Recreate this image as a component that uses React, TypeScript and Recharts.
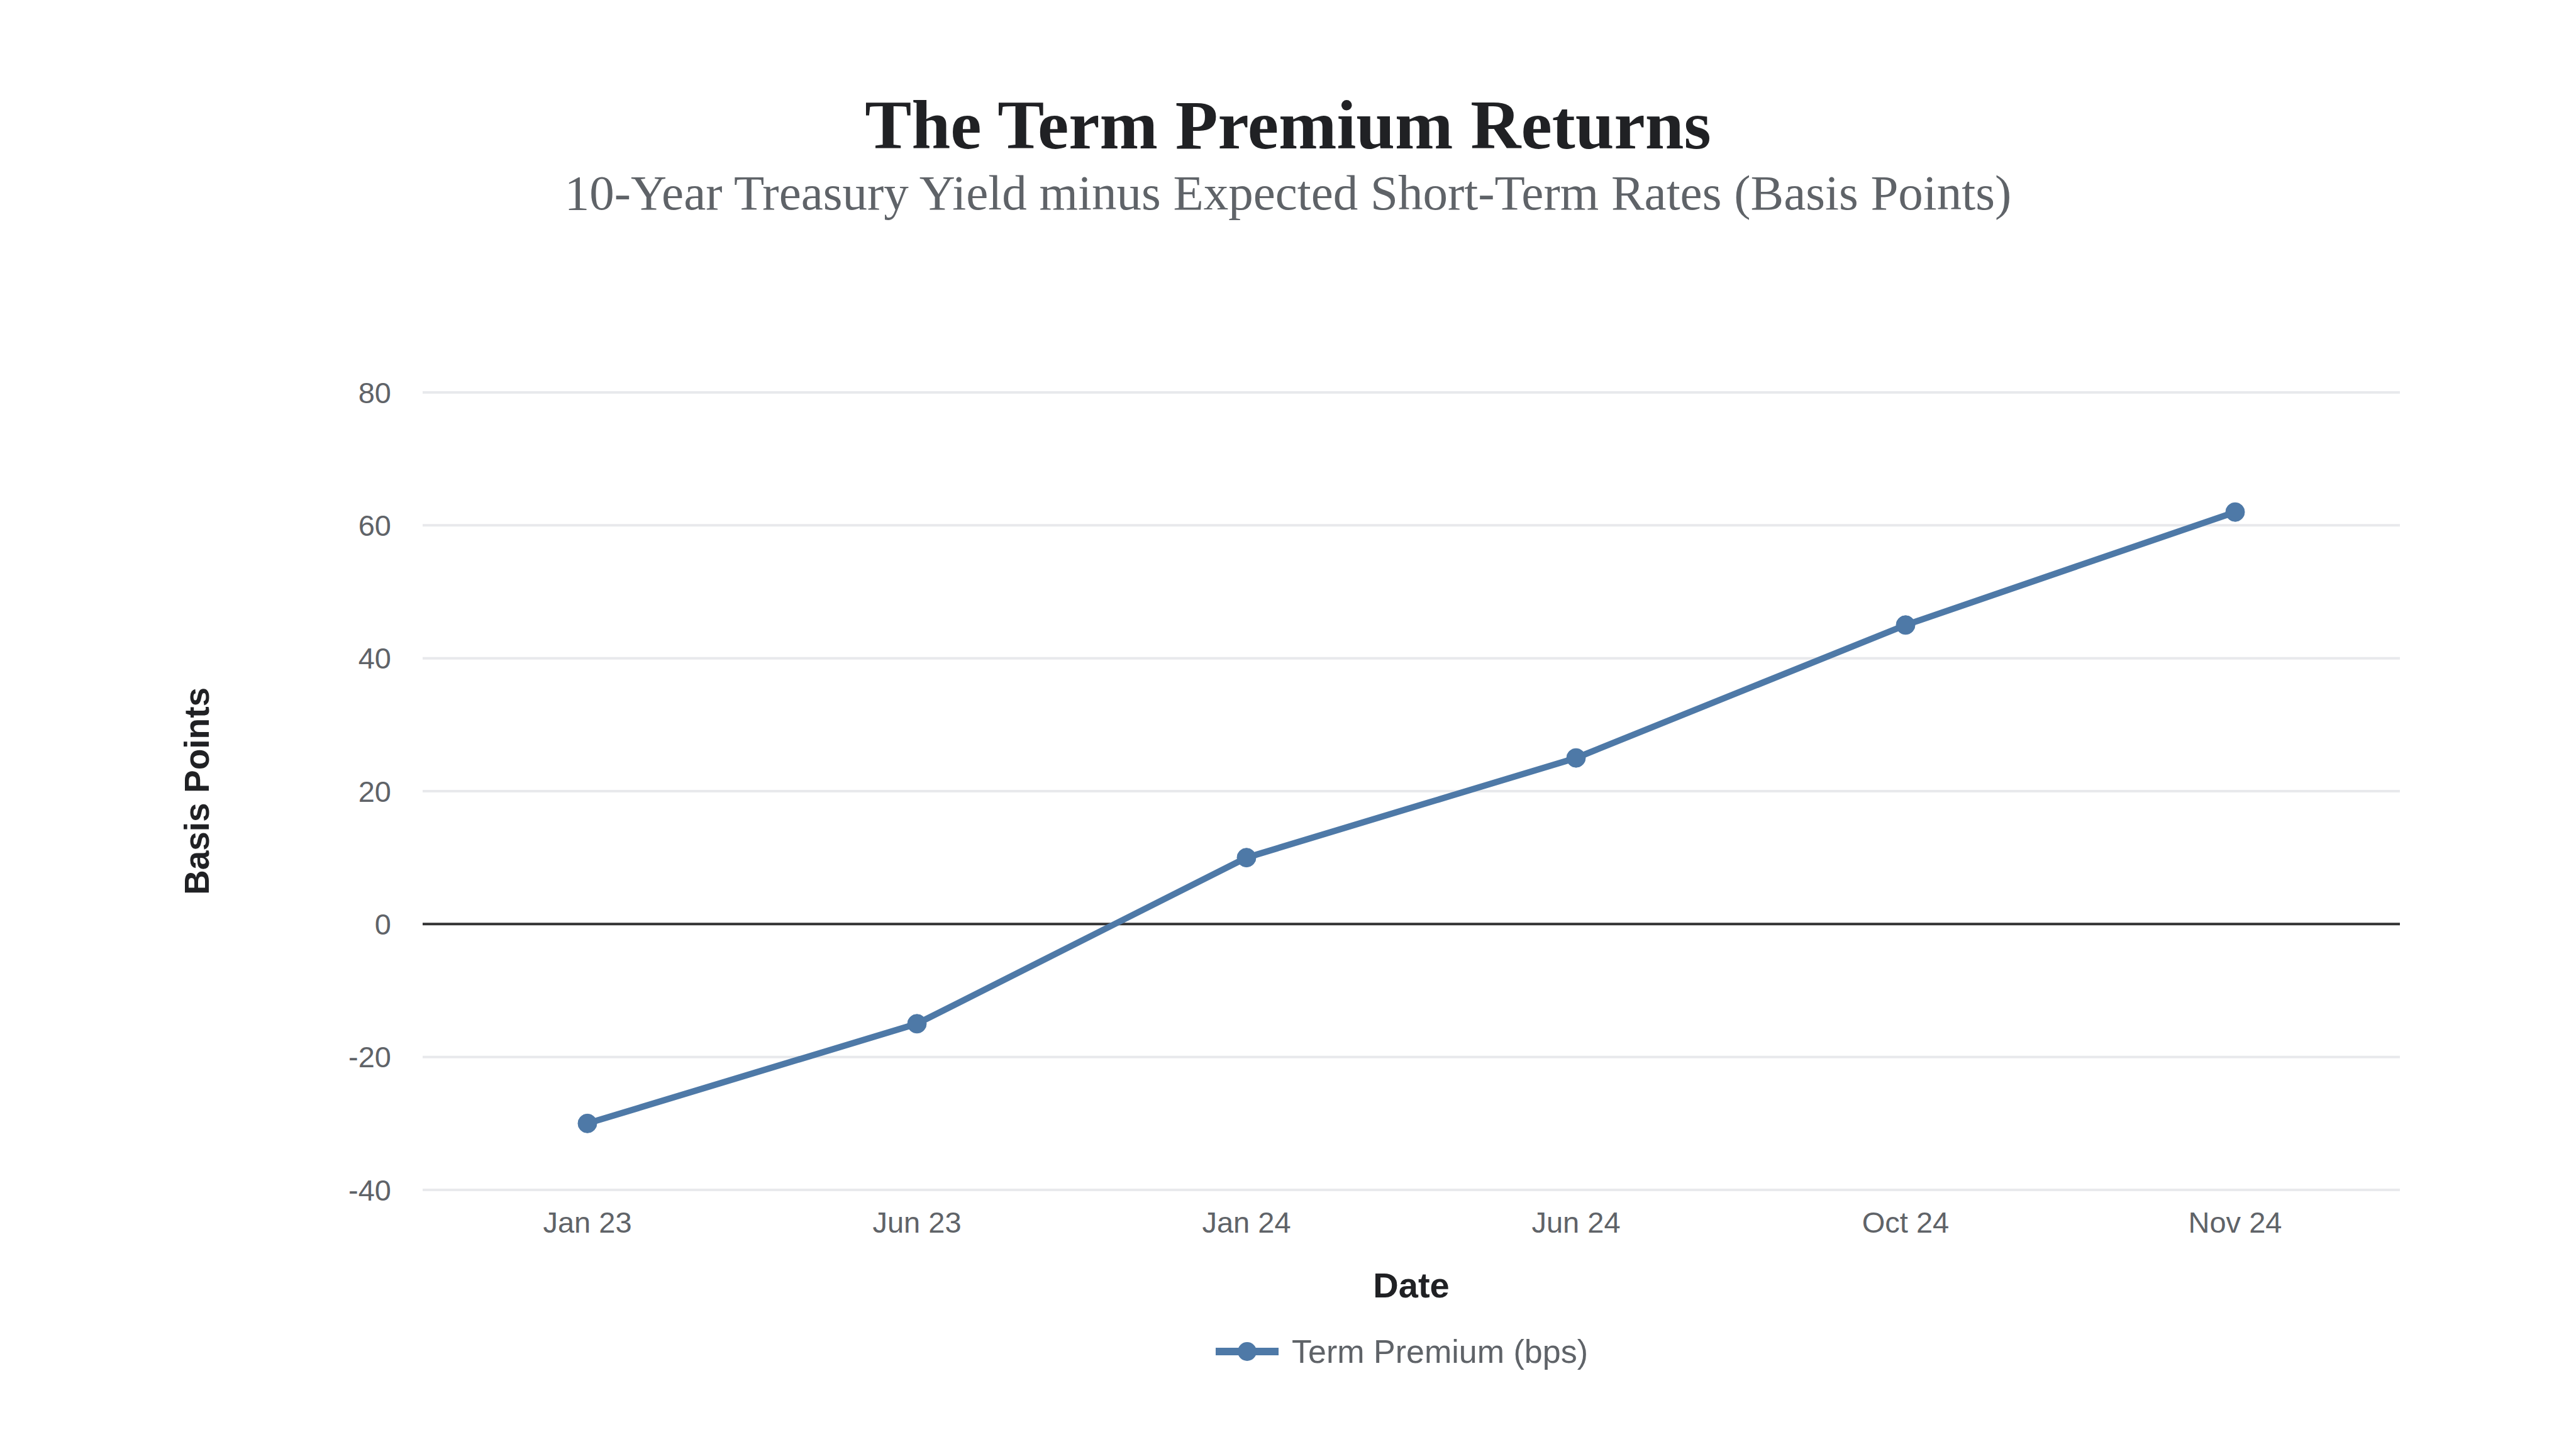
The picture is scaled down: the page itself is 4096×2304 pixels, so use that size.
import React from 'react';
import { LineChart, Line, XAxis, YAxis, CartesianGrid, Legend, ReferenceLine } from 'recharts';

// Term premium readings, in basis points
const months = ['Jan 23', 'Jun 23', 'Jan 24', 'Jun 24', 'Oct 24', 'Nov 24'];
const premiumBps = [-30, -15, 10, 25, 45, 62];
const yTicks = [-40, -20, 0, 20, 40, 60, 80];

const chartData = months.map((month, i) => ({ month, premium: premiumBps[i] }));

const LINE_COLOR = '#4e79a7';
const SANS = '"Liberation Sans", Arial, Helvetica, sans-serif';
const SERIF = '"Liberation Serif", "Times New Roman", serif';

function LegendContent() {
  return (
    <div style={{ display: 'flex', justifyContent: 'center', alignItems: 'center', height: 60 }}>
      <svg width={100} height={40} style={{ marginRight: 21 }}>
        <line x1={0} y1={20} x2={100} y2={20} stroke={LINE_COLOR} strokeWidth={12} />
        <circle cx={50} cy={20} r={15} fill={LINE_COLOR} />
      </svg>
      <span style={{ fontSize: 52, color: '#5f6368', fontFamily: SANS }}>Term Premium (bps)</span>
    </div>
  );
}

export default function App() {
  return (
    <div style={{ position: 'relative', width: 4080, height: 2288, background: '#fff', fontFamily: SANS }}>
      <div
        style={{
          position: 'absolute',
          top: 135,
          left: 0,
          right: 0,
          textAlign: 'center',
          fontFamily: SERIF,
          fontWeight: 700,
          fontSize: 111,
          lineHeight: 1,
          color: '#202124',
        }}
      >
        The Term Premium Returns
      </div>
      <div
        style={{
          position: 'absolute',
          top: 259,
          left: 0,
          right: 0,
          textAlign: 'center',
          fontFamily: SERIF,
          fontSize: 79,
          lineHeight: 1,
          color: '#5f6368',
        }}
      >
        10-Year Treasury Yield minus Expected Short-Term Rates (Basis Points)
      </div>

      <LineChart
        width={4080}
        height={2288}
        data={chartData}
        margin={{ top: 616, right: 272, left: 200, bottom: 117 }}
      >
        <CartesianGrid vertical={false} stroke="#e8e9ec" strokeWidth={4} />
        <XAxis
          dataKey="month"
          padding={{ left: 262, right: 262 }}
          axisLine={false}
          tickLine={false}
          tickSize={0}
          tickMargin={35}
          height={227}
          tick={{ fill: '#5f6368', fontSize: 47 }}
          label={{ value: 'Date', position: 'insideBottom', offset: 56, fill: '#202124', fontSize: 56, fontWeight: 700 }}
        />
        <YAxis
          width={464}
          domain={[-40, 80]}
          ticks={yTicks}
          axisLine={false}
          tickLine={false}
          tickSize={0}
          tickMargin={50}
          tick={{ fill: '#5f6368', fontSize: 47 }}
          label={{
            value: 'Basis Points',
            angle: -90,
            position: 'insideLeft',
            offset: 104,
            fill: '#202124',
            fontSize: 55,
            fontWeight: 700,
            style: { textAnchor: 'middle' },
          }}
        />
        <ReferenceLine y={0} stroke="#333333" strokeWidth={4} />
        <Legend
          verticalAlign="bottom"
          content={<LegendContent />}
          wrapperStyle={{ left: 649, width: 3144 }}
        />
        <Line
          type="linear"
          dataKey="premium"
          name="Term Premium (bps)"
          stroke={LINE_COLOR}
          strokeWidth={10}
          dot={{ r: 15, fill: LINE_COLOR, stroke: LINE_COLOR, strokeWidth: 1 }}
          activeDot={false}
          isAnimationActive={false}
        />
      </LineChart>
    </div>
  );
}
